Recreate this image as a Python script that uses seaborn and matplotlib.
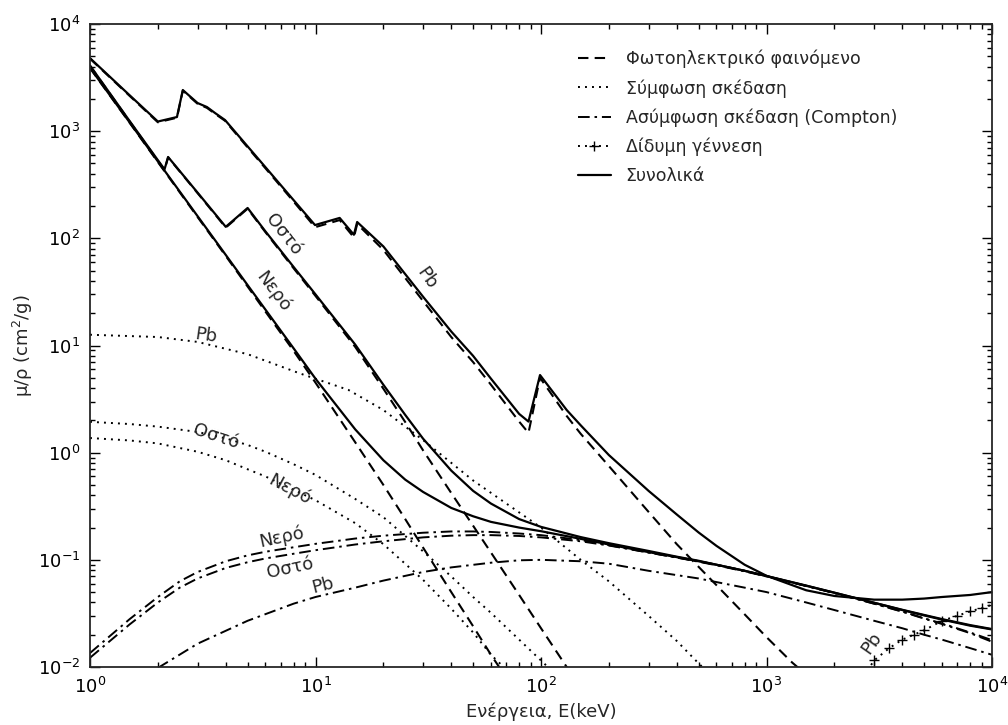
import matplotlib
matplotlib.use("Agg")
import matplotlib.pyplot as plt
from matplotlib.lines import Line2D
import seaborn as sns

# --- data (energy in keV, mu/rho in cm^2/g) ---
pb_tot_E = [1, 1.5, 2.0, 2.43, 2.58, 3.0, 3.3, 3.58, 3.97, 5, 6, 8, 9.95, 12.8, 14.8, 15.3,
            20, 30, 40, 50, 60, 80, 88, 99, 130, 150, 200, 300, 400, 500, 600, 800, 1000,
            1500, 2000, 3000, 4000, 5000, 6000, 8000, 10000]
pb_tot = [4800, 2160, 1230, 1355, 2420, 1830, 1680, 1480, 1270, 721, 461, 227, 133, 155, 108, 142,
          84, 28.5, 13.5, 8.0, 4.9, 2.3, 1.95, 5.3, 2.5, 1.8, 0.95, 0.44, 0.265, 0.18, 0.135, 0.09, 0.071,
          0.052, 0.046, 0.0425, 0.0425, 0.0435, 0.045, 0.047, 0.050]

pb_pe_E = [1, 1.5, 2.0, 2.43, 2.58, 3.0, 3.3, 3.58, 3.97, 5, 6, 8, 9.95, 12.8, 14.8, 15.3,
           20, 30, 40, 50, 60, 80, 88, 99, 130, 150, 200, 300, 400, 500, 600, 800, 1000, 1300, 1500]
pb_pe = [4750, 2130, 1210, 1335, 2390, 1800, 1650, 1455, 1250, 705, 450, 220, 127, 148, 102, 136,
         78, 26, 12, 7.0, 4.3, 1.95, 1.53, 5.0, 2.2, 1.5, 0.75, 0.28, 0.14, 0.086, 0.058, 0.031, 0.019,
         0.011, 0.0085]

w_tot_E = [1, 1.5, 2, 3, 4, 5, 6, 8, 10, 15, 20, 25, 30, 40, 50, 60, 80, 100, 150, 200, 300, 400, 500,
           600, 800, 1000, 1500, 2000, 3000, 4000, 5000, 6000, 8000, 10000]
w_tot = [3900, 1205, 522, 161, 70, 36.6, 21.6, 9.4, 4.9, 1.65, 0.85, 0.56, 0.43, 0.305, 0.255, 0.226,
         0.2, 0.185, 0.157, 0.139, 0.118, 0.106, 0.097, 0.09, 0.079, 0.0707, 0.0575, 0.0494, 0.0397,
         0.034, 0.0303, 0.0277, 0.0243, 0.0224]

w_pe_E = [1, 1.5, 2, 3, 4, 5, 6, 8, 10, 15, 20, 25, 30, 40, 50, 60, 70]
w_pe = [3880, 1195, 515, 158, 68.5, 35.5, 20.7, 8.9, 4.5, 1.25, 0.5, 0.24, 0.13, 0.05, 0.024, 0.013, 0.008]

b_tot_E = [1, 1.5, 2.14, 2.22, 3, 4.0, 5.0, 6, 8, 10, 15, 20, 25, 30, 40, 50, 60, 80, 100, 150, 200,
           300, 400, 500, 600, 800, 1000, 1500, 2000, 3000, 4000, 5000, 6000, 8000, 10000]
b_tot = [4100, 1240, 440, 574, 267, 128, 192, 116, 54, 30, 10.2, 4.3, 2.25, 1.35, 0.68, 0.44, 0.335,
         0.24, 0.203, 0.163, 0.143, 0.121, 0.107, 0.098, 0.09, 0.079, 0.0705, 0.0573, 0.0493, 0.0398,
         0.0342, 0.0306, 0.028, 0.0246, 0.0226]

b_pe_E = [1, 1.5, 2.14, 2.22, 3, 4.0, 5.0, 6, 8, 10, 15, 20, 25, 30, 40, 50, 60, 80, 100, 130, 150]
b_pe = [4080, 1230, 435, 570, 264, 126, 189, 114, 52.5, 29, 9.7, 3.95, 1.93, 1.05, 0.42, 0.208, 0.117,
        0.047, 0.023, 0.01, 0.0065]

pb_coh_E = [1, 2, 3, 5, 8.5, 14, 20, 30, 50, 100, 150, 200, 300, 400, 500, 600]
pb_coh = [12.6, 12.0, 10.8, 8.3, 5.5, 3.85, 2.5, 1.31, 0.55, 0.2, 0.1, 0.063, 0.03, 0.0175, 0.0108, 0.0075]

w_coh_E = [1, 1.5, 2, 3, 4, 5, 6, 8, 10, 15, 20, 30, 40, 50, 60, 70]
w_coh = [1.37, 1.3, 1.22, 1.02, 0.85, 0.7, 0.6, 0.45, 0.36, 0.22, 0.14, 0.065, 0.035, 0.021, 0.013, 0.0095]

b_coh_E = [1, 1.5, 2, 3, 4, 5, 6, 8, 10, 15, 20, 30, 40, 50, 60, 80, 100, 120]
b_coh = [1.94, 1.85, 1.75, 1.56, 1.36, 1.18, 1.02, 0.78, 0.62, 0.37, 0.25, 0.12, 0.07, 0.045, 0.032,
         0.018, 0.0115, 0.008]

comp_E = [1, 1.5, 2, 2.5, 3, 4, 5, 6, 8, 10, 15, 20, 30, 40, 50, 60, 80, 100, 150, 200, 300, 400, 500,
          600, 800, 1000, 1500, 2000, 3000, 4000, 5000, 6000, 8000, 10000]
w_comp = [0.0135, 0.028, 0.045, 0.063, 0.077, 0.097, 0.11, 0.119, 0.131, 0.141, 0.158, 0.168, 0.179,
          0.184, 0.184, 0.182, 0.176, 0.17, 0.153, 0.137, 0.117, 0.105, 0.096, 0.089, 0.078, 0.07, 0.057,
          0.049, 0.039, 0.033, 0.0285, 0.0255, 0.021, 0.0178]
b_comp = [0.0122, 0.025, 0.040, 0.055, 0.067, 0.084, 0.095, 0.103, 0.114, 0.123, 0.139, 0.149, 0.162,
          0.168, 0.17, 0.17, 0.167, 0.162, 0.149, 0.136, 0.117, 0.105, 0.097, 0.09, 0.079, 0.0705, 0.057,
          0.049, 0.039, 0.0328, 0.0283, 0.0252, 0.0207, 0.0172]

pb_comp_E = [2, 3, 5, 8, 10, 15, 20, 30, 40, 60, 80, 100, 150, 200, 300, 400, 500, 600, 800, 1000,
             1500, 2000, 3000, 4000, 5000, 6000, 8000, 10000]
pb_comp = [0.0098, 0.0165, 0.027, 0.039, 0.045, 0.055, 0.064, 0.077, 0.085, 0.094, 0.099, 0.1, 0.097,
           0.092, 0.079, 0.072, 0.067, 0.062, 0.055, 0.05, 0.04, 0.034, 0.027, 0.023, 0.02, 0.018, 0.015, 0.013]

pb_pair_E = [2000, 2500, 3000, 3500, 4000, 4500, 5000, 6000, 7000, 8000, 9000, 10000]
pb_pair = [0.0025, 0.0065, 0.0115, 0.015, 0.018, 0.02, 0.022, 0.027, 0.030, 0.033, 0.0355, 0.038]

legend_labels = ["Φωτοηλεκτρικό φαινόμενο", "Σύμφωση σκέδαση", "Ασύμφωση σκέδαση (Compton)",
                 "Δίδυμη γέννεση", "Συνολικά"]

# --- style ---
sns.set_style("ticks")
plt.rcParams["font.family"] = ["DejaVu Sans"]
plt.rcParams["mathtext.fontset"] = "dejavusans"

ls_pe = (0, (5, 3))
ls_coh = (0, (1, 2.6))
ls_comp = (0, (6, 2.5, 1.3, 2.5))
ls_tot = "-"

fig = plt.figure(figsize=(10.08, 7.25), dpi=100)
ax = fig.add_axes([90 / 1008, 1 - 667 / 725, 902 / 1008, 643 / 725])
ax.set_xscale("log")
ax.set_yscale("log")

curves = [
    (pb_pe_E, pb_pe, ls_pe, 1.5), (w_pe_E, w_pe, ls_pe, 1.5), (b_pe_E, b_pe, ls_pe, 1.5),
    (pb_coh_E, pb_coh, ls_coh, 1.4), (w_coh_E, w_coh, ls_coh, 1.4), (b_coh_E, b_coh, ls_coh, 1.4),
    (comp_E, w_comp, ls_comp, 1.4), (comp_E, b_comp, ls_comp, 1.4), (pb_comp_E, pb_comp, ls_comp, 1.4),
    (pb_tot_E, pb_tot, ls_tot, 1.6), (w_tot_E, w_tot, ls_tot, 1.6), (b_tot_E, b_tot, ls_tot, 1.6),
]
for e, v, ls, lw in curves:
    sns.lineplot(x=e, y=v, ax=ax, color="black", linestyle=ls, linewidth=lw,
                 estimator=None, sort=False)

sns.lineplot(x=pb_pair_E, y=pb_pair, ax=ax, color="black", linestyle=ls_coh, linewidth=1.4,
             marker="+", markersize=7, markeredgecolor="black", markeredgewidth=1.0,
             estimator=None, sort=False)

ax.set_xlim(1, 1e4)
ax.set_ylim(1e-2, 1e4)

# curve labels
lab = dict(fontsize=13, ha="center", va="center", rotation_mode="anchor")
ax.text(7.18, 108, "Οστό", rotation=-52, **lab)
ax.text(6.48, 31.6, "Νερό", rotation=-53, **lab)
ax.text(31.2, 42.8, "Pb", rotation=-55, **lab)
ax.text(3.27, 12.3, "Pb", rotation=-8, **lab)
ax.text(3.62, 1.40, "Οστό", rotation=-18, **lab)
ax.text(7.71, 0.45, "Νερό", rotation=-28, **lab)
ax.text(7.1, 0.164, "Νερό", rotation=12, **lab)
ax.text(7.71, 0.084, "Οστό", rotation=12, **lab)
ax.text(10.8, 0.058, "Pb", rotation=14, **lab)
ax.text(2937, 0.0168, "Pb", rotation=55, **lab)

# axes cosmetics
for s in ax.spines.values():
    s.set_linewidth(1.3)
ax.tick_params(which="both", direction="in", top=True, right=True, width=1.0, colors="black")
ax.tick_params(which="major", length=7, labelsize=13, pad=7)
ax.tick_params(which="minor", length=3.5)

ax.set_xlabel("Ενέργεια, E(keV)", fontsize=13, labelpad=4)
ax.set_ylabel("μ/ρ (cm$^2$/g)", fontsize=13, labelpad=2)

handles = [
    Line2D([], [], color="black", linestyle=ls_pe, lw=1.5),
    Line2D([], [], color="black", linestyle=ls_coh, lw=1.4),
    Line2D([], [], color="black", linestyle=ls_comp, lw=1.4),
    Line2D([], [], color="black", linestyle=ls_coh, lw=1.4, marker="+", markersize=7),
    Line2D([], [], color="black", linestyle=ls_tot, lw=1.6),
]
ax.legend(handles, legend_labels, loc="upper left", bbox_to_anchor=(0.535, 0.968),
          frameon=False, fontsize=12.5, handlelength=1.9, handletextpad=0.85,
          labelspacing=0.62, borderaxespad=0, borderpad=0.3)

fig.savefig("out.png", dpi=100)
